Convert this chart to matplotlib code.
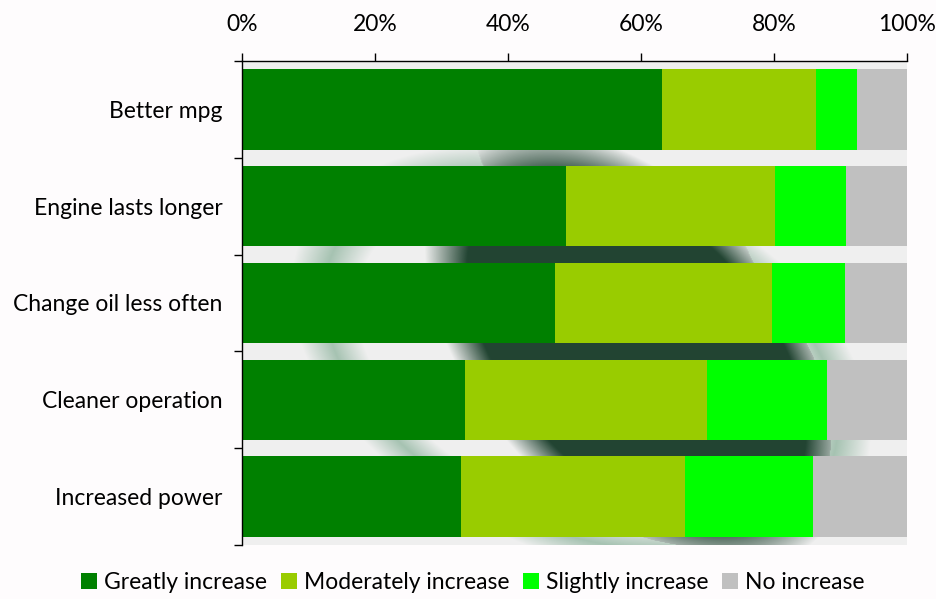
import numpy as np
import matplotlib.pyplot as plt
from matplotlib.ticker import FixedLocator, PercentFormatter

plt.rcParams['font.family'] = ['Lato', 'DejaVu Sans']

# survey categories (top to bottom) and share of answers per level, in percent
benefits = ['Better mpg', 'Engine lasts longer', 'Change oil less often',
            'Cleaner operation', 'Increased power']
greatly = [63.1, 48.8, 47.0, 33.6, 32.9]
moderately = [23.2, 31.4, 32.7, 36.4, 33.7]
slightly = [6.2, 10.7, 11.0, 18.0, 19.3]
no_increase = [7.5, 9.1, 9.3, 12.0, 14.1]

levels = ['Greatly increase', 'Moderately increase', 'Slightly increase', 'No increase']
colors = ['#008000', '#99CC00', '#00FF00', '#C0C0C0']

fig = plt.figure(figsize=(9.36, 5.99), dpi=100, facecolor='#fefcfd')
ax = fig.add_axes([0.2585, 0.0902, 0.7105, 0.808])
ax.set_facecolor('#efefef')

# soft dark tyre-like blob behind the bars
W, H = 665, 486
xx, yy = np.meshgrid(np.arange(W) + 242, np.arange(H) + 60)
cx = 640 + (yy - 360) * 0.45
d_dark = np.sqrt(((xx - cx) / 170.0) ** 2 + ((yy - 350) / 200.0) ** 2)
d_ring = np.sqrt(((xx - cx + 60) / 260.0) ** 2 + ((yy - 360) / 205.0) ** 2)
dark = np.clip((1.1 - d_dark) / 0.22, 0, 1)
ring = np.clip((1.0 - np.abs(d_ring - 0.93) / 0.12), 0, 1) * 0.45
alpha = np.clip(np.maximum(dark * 0.92, ring), 0, 1)
shade = np.zeros((H, W, 4))
col = np.where(dark[..., None] > ring[..., None] / 0.92,
               np.array([0.06, 0.21, 0.13]), np.array([0.30, 0.55, 0.40]))
shade[..., :3] = col
shade[..., 3] = alpha
ax.imshow(shade, extent=[0, 100, 4.5, -0.5], aspect='auto', zorder=0,
          interpolation='bilinear')

y = np.arange(len(benefits))
left = np.zeros(len(benefits))
for vals, lab, c in zip([greatly, moderately, slightly, no_increase], levels, colors):
    ax.barh(y, vals, left=left, height=0.83, color=c, label=lab, zorder=2)
    left += np.array(vals)

ax.set_xlim(0, 100)
ax.set_ylim(4.5, -0.5)

ax.xaxis.tick_top()
ax.set_xticks(np.arange(0, 101, 20))
ax.xaxis.set_major_formatter(PercentFormatter(decimals=0))
ax.tick_params(axis='x', direction='out', length=6, width=1, pad=13,
               labelsize=16.5, colors='black')

ax.set_yticks(y)
ax.set_yticklabels(benefits)
ax.yaxis.set_minor_locator(FixedLocator(np.arange(-0.5, 5, 1)))
ax.tick_params(axis='y', which='major', length=0, pad=14, labelsize=16.5)
ax.tick_params(axis='y', which='minor', length=6, width=1)

for side in ['right', 'bottom']:
    ax.spines[side].set_visible(False)
for side in ['top', 'left']:
    ax.spines[side].set_linewidth(1)
    ax.spines[side].set_zorder(3)

fig.legend(loc='center', bbox_to_anchor=(0.505, 0.027), ncol=4, frameon=False,
           fontsize=16.5, handlelength=0.7, handleheight=0.7, handletextpad=0.3,
           columnspacing=0.6)

fig.savefig('out.png', dpi=100, facecolor=fig.get_facecolor())
